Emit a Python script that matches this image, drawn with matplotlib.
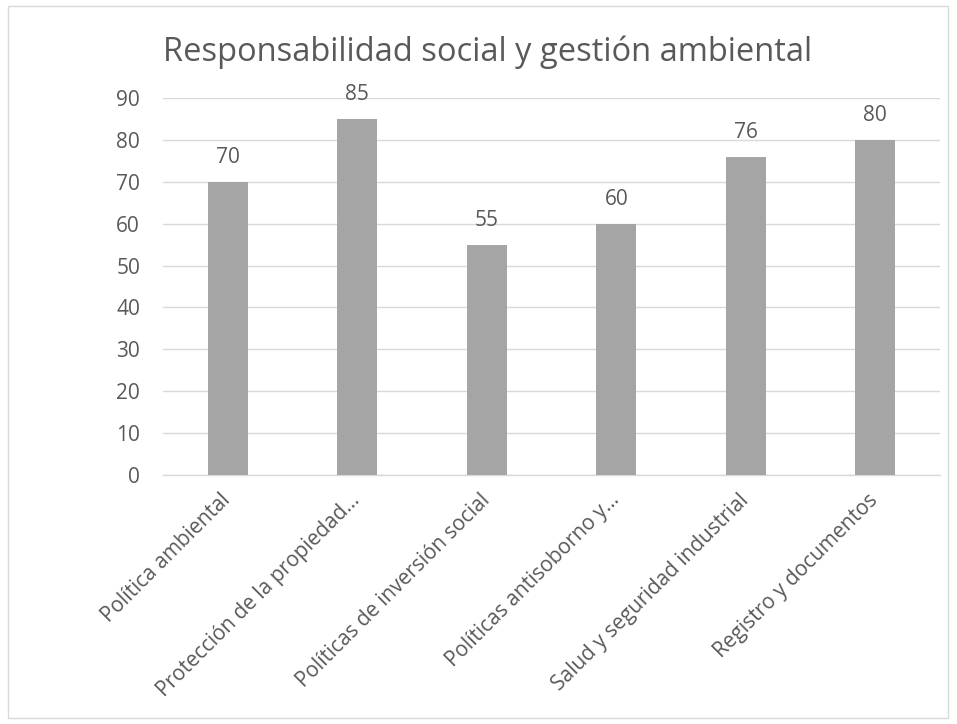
import matplotlib.pyplot as plt
from matplotlib.patches import Rectangle

plt.rcParams['font.family'] = ['Open Sans', 'DejaVu Sans']

# datos del grafico
categorias = ['Política ambiental', 'Protección de la propiedad…',
              'Políticas de inversión social', 'Políticas antisoborno y…',
              'Salud y seguridad industrial', 'Registro y documentos']
valores = [70, 85, 55, 60, 76, 80]
yticks = [0, 10, 20, 30, 40, 50, 60, 70, 80, 90]

texto = '#595959'
rejilla = '#D9D9D9'
barra = '#A5A5A5'

fig = plt.figure(figsize=(9.57, 7.24), dpi=100)
ax = fig.add_axes([163 / 957, 1 - 475 / 724, 777 / 957, 377 / 724])

x = range(len(categorias))
bars = ax.bar(x, valores, width=0.31, color=barra, zorder=3)
for b, v in zip(bars, valores):
    ax.annotate(str(v), (b.get_x() + b.get_width() / 2, v), xytext=(0, 10),
                textcoords='offset points', ha='center', va='bottom',
                fontsize=15, color=texto)

ax.set_xlim(-0.5, len(categorias) - 0.5)
ax.set_ylim(0, 90)
ax.set_yticks(yticks)
ax.set_xticks(list(x))
ax.set_xticklabels(categorias, rotation=45, ha='right', va='center',
                   rotation_mode='anchor', fontsize=15, color=texto)
ax.tick_params(axis='y', length=0, labelsize=15, labelcolor=texto, pad=16.5)
ax.tick_params(axis='x', length=0, pad=16)
ax.grid(axis='y', color=rejilla, linewidth=1, zorder=0)
for s in ['top', 'right', 'left']:
    ax.spines[s].set_visible(False)
ax.spines['bottom'].set_color(rejilla)
ax.spines['bottom'].set_linewidth(1)

fig.text(488 / 957, 1 - 61 / 724, 'Responsabilidad social y gestión ambiental',
         ha='center', va='baseline', fontsize=23.5, color=texto)

# marco del grafico
fig.patches.append(Rectangle((8 / 957, 6 / 724), 940 / 957, 712 / 724,
                             transform=fig.transFigure, fill=False,
                             edgecolor=rejilla, linewidth=1))

fig.savefig('out.png', dpi=100)
